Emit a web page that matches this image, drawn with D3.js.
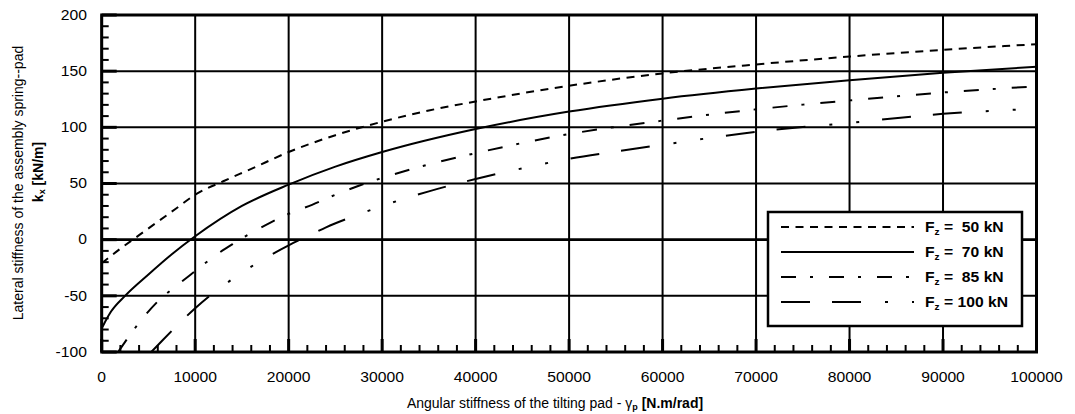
<!DOCTYPE html>
<html><head><meta charset="utf-8">
<script src="https://cdn.jsdelivr.net/npm/d3@7"></script>
<style>body{margin:0;background:#fff} text{font-family:"Liberation Sans",Arial,sans-serif;fill:#000}</style>
</head><body><svg id="c" width="1075" height="414"></svg>
<script>
const xTickValues=[0,10000,20000,30000,40000,50000,60000,70000,80000,90000,100000];
const yTickValues=[-100,-50,0,50,100,150,200];
const seriesNames=["50 kN","70 kN","85 kN","100 kN"];
const x50=[0,2000,4000,6000,8000,10000,13000,16000,20000,25000,30000,35000,40000,50000,60000,70000,80000,90000,100000];
const y50=[-21,-8,4,16,28,40,52,63,78,93,105,115,123,137,148,156,163,169,174];
const x70=[0,500,1000,2500,5000,7500,10000,15000,20000,25000,30000,40000,50000,60000,70000,80000,90000,100000];
const y70=[-79,-71,-64,-50,-31,-13,3,30,49,65,78,98.5,114,125.5,134.5,142,148.5,154];
const x85=[1750,2000,4000,6000,8000,10000,12000,14000,16000,18000,20000,22500,25000,27500,30000,35000,40000,50000,60000,70000,80000,90000,100000];
const y85=[-100,-97,-74,-55,-41,-28,-15,-4,6,15,23,31,40,48,55,67,77,94,106,116,124,131,136.5];
const x100=[5300,6000,8000,10000,12000,14000,16000,18000,20000,22000,24000,27000,30000,35000,40000,45000,50000,55000,60000,70000,80000,90000,100000];
const y100=[-100,-94,-77,-61,-47,-35,-24,-14,-5,3,11,21,30,43,54,63.5,72,78.5,84.5,96,104,112,116.5];

const dashes=["8,6.5",null,"15,14,3,16","29,22,29,24,3,24,3,23"];
const series=[[x50,y50],[x70,y70],[x85,y85],[x100,y100]].map((d,i)=>({name:seriesNames[i],dash:dashes[i],pts:d[0].map((v,j)=>[v,d[1][j]])}));

const svg=d3.select("#c");
const L=101.7,R=1036.5,T=15,B=352;
const x=d3.scaleLinear().domain([0,100000]).range([L,R]);
const y=d3.scaleLinear().domain([-100,200]).range([B,T]);
const SX=1.12;
function htext(px,py,str,opts={}){
  const g=svg.append("g").attr("transform",`translate(${px},${py}) scale(${SX},1)`);
  const t=g.append("text").attr("font-size",opts.size||14).attr("text-anchor",opts.anchor||"middle").attr("dominant-baseline","central");
  if(opts.bold) t.attr("font-weight","bold");
  return t.text(str);
}

// grid
svg.append("g").selectAll("line").data(xTickValues).join("line")
 .attr("x1",d=>x(d)).attr("x2",d=>x(d)).attr("y1",T).attr("y2",B).attr("stroke","#000").attr("stroke-width",2);
svg.append("g").selectAll("line").data(yTickValues).join("line")
 .attr("x1",L).attr("x2",R).attr("y1",d=>y(d)).attr("y2",d=>y(d)).attr("stroke","#000").attr("stroke-width",d=>d===0?2.6:2);

// curves
svg.append("clipPath").attr("id","pc").append("rect").attr("x",L).attr("y",T).attr("width",R-L).attr("height",B-T);
const line=d3.line().x(d=>x(d[0])).y(d=>y(d[1])).curve(d3.curveMonotoneX);
svg.append("g").attr("clip-path","url(#pc)").selectAll("path").data(series).join("path")
 .attr("d",d=>line(d.pts)).attr("fill","none").attr("stroke","#000").attr("stroke-width",2)
 .attr("stroke-dasharray",d=>d.dash);

// ticks
const xMinor=d3.range(0,100001,2000).filter(v=>v%10000!==0);
const yMinor=d3.range(-100,201,10).filter(v=>v%50!==0);
svg.append("g").selectAll("line").data(xMinor).join("line")
 .attr("x1",d=>x(d)).attr("x2",d=>x(d)).attr("y1",B).attr("y2",B-7).attr("stroke","#000").attr("stroke-width",2);
svg.append("g").selectAll("line").data(xTickValues).join("line")
 .attr("x1",d=>x(d)).attr("x2",d=>x(d)).attr("y1",B).attr("y2",B-13).attr("stroke","#000").attr("stroke-width",3);
svg.append("g").selectAll("line").data(yMinor).join("line")
 .attr("x1",L).attr("x2",L+7).attr("y1",d=>y(d)).attr("y2",d=>y(d)).attr("stroke","#000").attr("stroke-width",2);
svg.append("g").selectAll("line").data(yTickValues).join("line")
 .attr("x1",L).attr("x2",L+15).attr("y1",d=>y(d)).attr("y2",d=>y(d)).attr("stroke","#000").attr("stroke-width",3);

// border
svg.append("rect").attr("x",L).attr("y",T).attr("width",R-L).attr("height",B-T).attr("fill","none").attr("stroke","#000").attr("stroke-width",3);

// tick labels
xTickValues.forEach(v=>htext(x(v),377,String(v)));
yTickValues.forEach(v=>htext(87,y(v),String(v),{anchor:"end"}));

// legend
const lg={x0:768,x1:1022,y0:212,y1:326};
svg.append("rect").attr("x",lg.x0).attr("y",lg.y0).attr("width",lg.x1-lg.x0).attr("height",lg.y1-lg.y0).attr("fill","#fff").attr("stroke","#000").attr("stroke-width",2.5);
series.forEach((s,i)=>{
  const yy=227+25*i;
  svg.append("line").attr("x1",781).attr("x2",914).attr("y1",yy).attr("y2",yy).attr("stroke","#000").attr("stroke-width",2).attr("stroke-dasharray",s.dash);
  const g=svg.append("g").attr("transform",`translate(925,${yy}) scale(${SX},1)`);
  const t=g.append("text").attr("font-size",14).attr("font-weight","bold").attr("dominant-baseline","central");
  t.append("tspan").text("F");
  t.append("tspan").attr("font-size",9).attr("dy",4).text("z");
  const num=s.name.split(" ")[0];
  t.append("tspan").attr("dy",-4).attr("xml:space","preserve").style("white-space","pre").text(num.length<3?" =  "+s.name:" = "+s.name);
});

// axis titles
const xt=svg.append("g").attr("transform",`translate(555,403) scale(1.0,1)`).append("text").attr("font-size",14).attr("text-anchor","middle").attr("dominant-baseline","central");
xt.append("tspan").text("Angular stiffness of the tilting pad - ");
xt.append("tspan").text("γ");
xt.append("tspan").attr("font-size",9).attr("font-weight","bold").attr("dy",4).text("p");
xt.append("tspan").attr("dy",-4).attr("font-weight","bold").text(" [N.m/rad]");

const yt=svg.append("g").attr("transform","translate(18,183) rotate(-90)");
yt.append("text").attr("font-size",14).attr("text-anchor","middle").attr("dominant-baseline","central").text("Lateral stiffness of the assembly spring--pad");
const yt2=svg.append("g").attr("transform","translate(38,172) rotate(-90)").append("text").attr("font-size",14).attr("font-weight","bold").attr("text-anchor","middle").attr("dominant-baseline","central");
yt2.append("tspan").text("k");
yt2.append("tspan").attr("font-size",9).attr("dy",4).text("x");
yt2.append("tspan").attr("dy",-4).text(" [kN/m]");
</script></body></html>
